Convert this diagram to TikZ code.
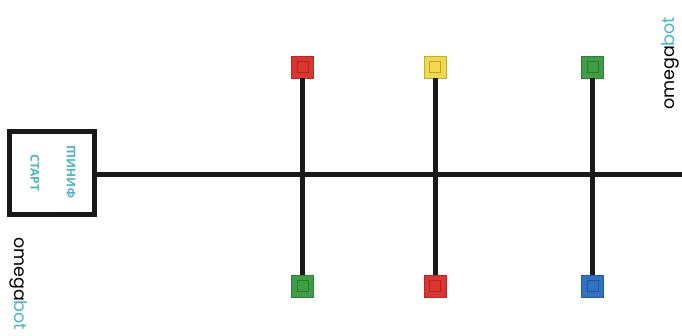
\documentclass[tikz,border=0pt]{standalone}
\usepackage{fontspec}
\newfontfamily\labelfont{Open Sans}
\newfontfamily\logofont{Poppins}
\definecolor{teal1}{HTML}{4DB3C9}
\definecolor{sqred}{HTML}{DC3530}
\definecolor{sqgreen}{HTML}{3E9E43}
\definecolor{sqyellow}{HTML}{F2D84A}
\definecolor{sqblue}{HTML}{2F72C4}
\tikzset{
  track/.style={line width=5pt, draw=black!90},
  startbox/.style={draw=black!90, line width=5pt, fill=white, minimum width=85pt, minimum height=83pt, inner sep=0pt},
  boxtext/.style={text=teal1, font=\labelfont\bfseries\fontsize{12}{12}\selectfont, inner sep=0pt},
  logo/.style={font=\logofont\fontsize{17.5}{17.5}\selectfont, inner sep=0pt},
  marker/.style={minimum size=22pt, inner sep=0pt, fill=#1, draw=#1!80!black, line width=0.8pt,
    path picture={\draw[#1!75!black, line width=1pt] ([shift={(-5.5pt,-5.5pt)}]path picture bounding box.center) rectangle ([shift={(5.5pt,5.5pt)}]path picture bounding box.center);}}
}
\begin{document}
\begin{tikzpicture}[x=1pt,y=-1pt]
\useasboundingbox[fill=white] (0,0) rectangle (682,336);
% markers
\node[marker=sqred]    (t1) at (302.5,67) {};
\node[marker=sqgreen]  (b1) at (302.5,286) {};
\node[marker=sqyellow] (t2) at (435,67) {};
\node[marker=sqred]    (b2) at (435,286) {};
\node[marker=sqgreen]  (t3) at (592.5,67) {};
\node[marker=sqblue]   (b3) at (592.5,286) {};
% start box
\node[startbox] (start) at (52,173) {};
\node[boxtext, rotate=-90] (st) at (35,173) {СТАРТ};
\node[boxtext, rotate=90] (fin) at (71,172) {ФИНИШ};
\coordinate (rend) at (682,175);
% tracks
\draw[track] (start.east |- rend) -- (rend);
\draw[track] (t1.south) -- (b1.north);
\draw[track] (t2.south) -- (b2.north);
\draw[track] (t3.south) -- (b3.north);
% logos
\node[logo, rotate=-90, anchor=south west] (logo1) at (10,237) {omega\textcolor{teal1}{bot}};
\node[logo, rotate=90, anchor=south west] (logo2) at (679,110) {omega\textcolor{teal1}{bot}};
\end{tikzpicture}
\end{document}
